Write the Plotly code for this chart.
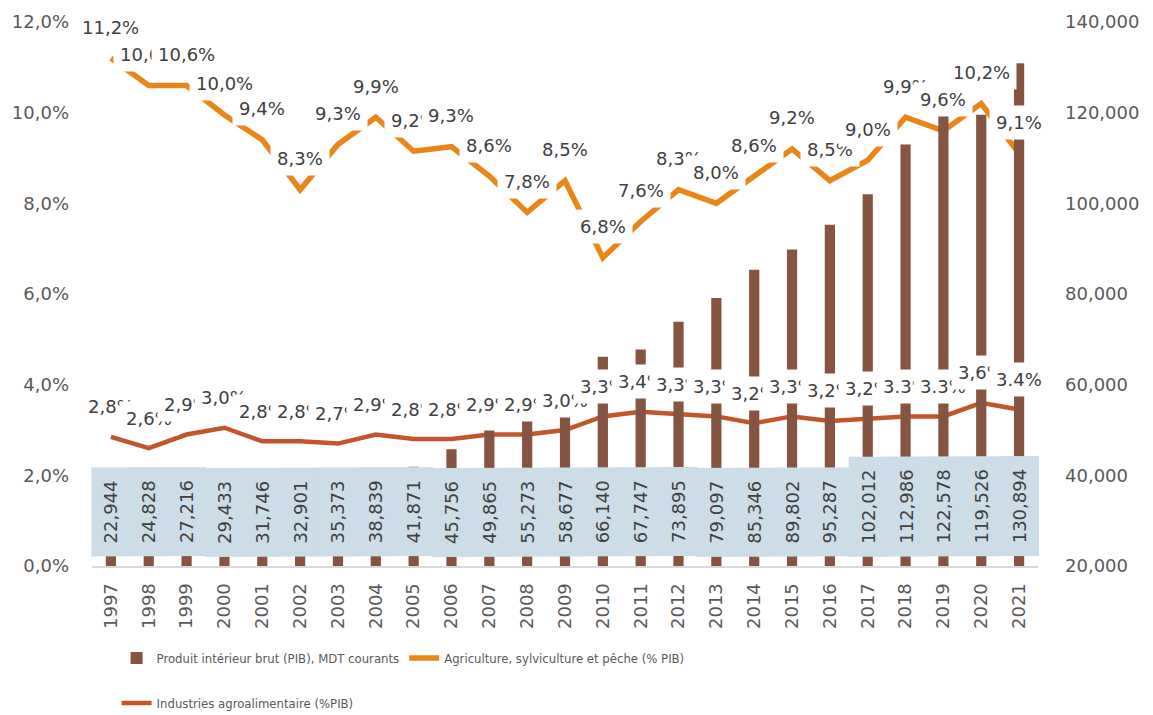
import plotly.graph_objects as go

years = [str(y) for y in range(1997, 2022)]
gdp = [22944, 24828, 27216, 29433, 31746, 32901, 35373, 38839, 41871, 45756,
       49865, 55273, 58677, 66140, 67747, 73895, 79097, 85346, 89802, 95287,
       102012, 112986, 122578, 119526, 130894]
agri = [11.2, 10.6, 10.6, 9.95, 9.4, 8.3, 9.3, 9.9, 9.15, 9.25, 8.6, 7.8, 8.5,
        6.8, 7.6, 8.3, 8.0, 8.6, 9.2, 8.5, 8.95, 9.9, 9.6, 10.2, 9.1]
agri_labels = ["11,2%", "10,6%", "10,6%", "10,0%", "9,4%", "8,3%", "9,3%", "9,9%",
               "9,2%", "9,3%", "8,6%", "7,8%", "8,5%", "6,8%", "7,6%", "8,3%",
               "8,0%", "8,6%", "9,2%", "8,5%", "9,0%", "9,9%", "9,6%", "10,2%", "9,1%"]
iaa = [2.85, 2.6, 2.9, 3.05, 2.75, 2.75, 2.7, 2.9, 2.8, 2.8, 2.9, 2.9, 3.0,
       3.3, 3.4, 3.35, 3.3, 3.15, 3.3, 3.2, 3.25, 3.3, 3.3, 3.6, 3.45]
iaa_labels = ["2,8%", "2,6%", "2,9%", "3,0%", "2,8%", "2,8%", "2,7%", "2,9%",
              "2,8%", "2,8%", "2,9%", "2,9%", "3,0%", "3,3%", "3,4%", "3,3%",
              "3,3%", "3,2%", "3,3%", "3,2%", "3,2%", "3.3%", "3.3%", "3,6%", "3.4%"]
left_ticks = [0, 2, 4, 6, 8, 10, 12]
left_ticktext = ["0,0%", "2,0%", "4,0%", "6,0%", "8,0%", "10,0%", "12,0%"]

names = ["Produit intérieur brut (PIB), MDT courants",
         "Agriculture, sylviculture et pêche (% PIB)",
         "Industries agroalimentaire (%PIB)"]

FONT = "DejaVu Sans"
BROWN = "#855541"
ORANGE = "#E8861A"
RED = "#C2562A"
TXT = "#404040"
TICK = "#595959"

fig = go.Figure()
fig.add_trace(go.Bar(x=years, y=gdp, name=names[0], yaxis="y2", width=0.27,
                     marker=dict(color=BROWN, line=dict(width=0)), legend="legend"))
fig.add_trace(go.Scatter(x=years, y=agri, name=names[1], mode="lines",
                         line=dict(color=ORANGE, width=5.5), legend="legend"))
fig.add_trace(go.Scatter(x=years, y=iaa, name=names[2], mode="lines",
                         line=dict(color=RED, width=4.5), legend="legend2"))

annotations = []
for i, v in enumerate(gdp):
    lab = f"{v:,}"
    annotations.append(dict(
        x=i, y=0, xref="x", yref="paper", yanchor="bottom", xanchor="center",
        yshift=9, text=lab, textangle=-90, showarrow=False,
        width=len(lab) * 11 + 22, height=38, borderpad=0,
        bgcolor="#CCDDE8", font=dict(family=FONT, size=18, color=TXT)))
for i, (v, lab) in enumerate(zip(agri, agri_labels)):
    annotations.append(dict(
        x=i, y=v, xref="x", yref="y", text=lab, showarrow=False, yshift=31,
        bgcolor="white", borderpad=6, font=dict(family=FONT, size=18, color=TXT)))
for i, (v, lab) in enumerate(zip(iaa, iaa_labels)):
    annotations.append(dict(
        x=i, y=v, xref="x", yref="y", text=lab, showarrow=False, yshift=30,
        bgcolor="white", borderpad=6, font=dict(family=FONT, size=18, color=TXT)))

legend_font = dict(family="Liberation Sans Narrow, DejaVu Sans Condensed, sans-serif",
                   size=13, color=TICK)

fig.update_layout(
    width=1153, height=715,
    margin=dict(l=92, r=115, t=22, b=149, autoexpand=False),
    plot_bgcolor="white", paper_bgcolor="white",
    xaxis=dict(type="category", categoryorder="array", categoryarray=years,
               range=[-0.5, 24.5], tickangle=-90, showgrid=False,
               showline=True, linecolor="#D9D9D9", linewidth=2, ticks="",
               ticklabelstandoff=8,
               tickfont=dict(family=FONT, size=18, color=TICK)),
    yaxis=dict(range=[0, 12], tickvals=left_ticks, ticktext=left_ticktext,
               showgrid=False, zeroline=False, showline=False, ticks="",
               ticklabelstandoff=22,
               tickfont=dict(family=FONT, size=18, color=TICK)),
    yaxis2=dict(range=[20000, 140000], dtick=20000, tick0=20000, tickformat=",d",
                overlaying="y", side="right", showgrid=False, zeroline=False,
                showline=False, ticks="", ticklabelstandoff=26,
                tickfont=dict(family=FONT, size=18, color=TICK)),
    legend=dict(orientation="h", x=0.026, y=-0.169, xanchor="left", yanchor="middle",
                font=legend_font, bgcolor="rgba(0,0,0,0)", traceorder="normal"),
    legend2=dict(orientation="h", x=0.026, y=-0.252, xanchor="left", yanchor="middle",
                 font=legend_font, bgcolor="rgba(0,0,0,0)"),
    annotations=annotations,
    showlegend=True,
)

fig.write_html("out.html", config={"displayModeBar": False},
               post_script="document.body.style.margin='0';document.body.style.overflow='hidden';")
